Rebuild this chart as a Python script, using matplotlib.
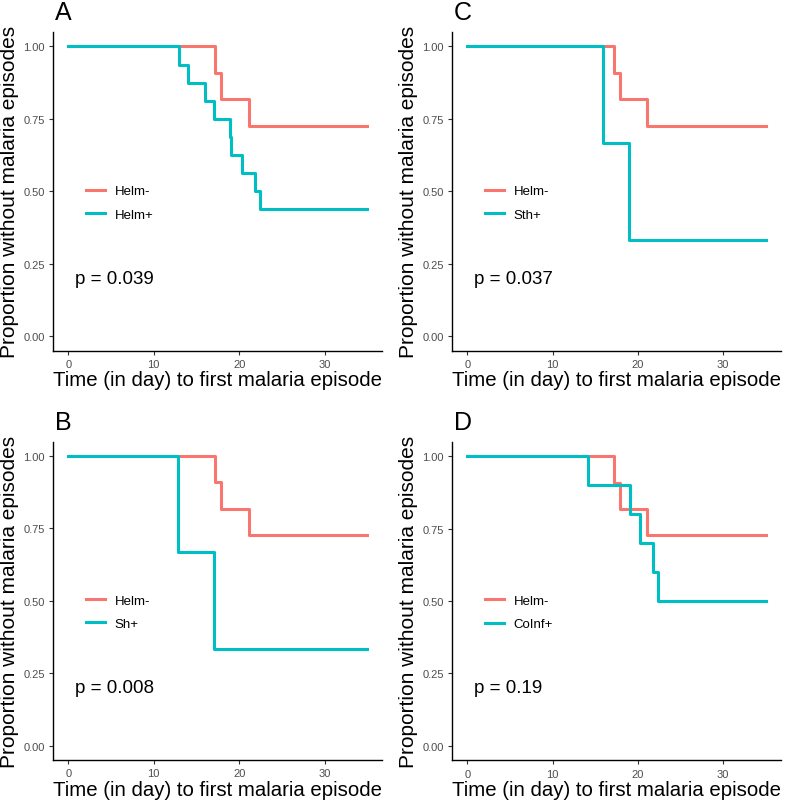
import matplotlib.pyplot as plt
import numpy as np

plt.rcParams['font.family'] = ['Liberation Sans', 'DejaVu Sans']

col_neg = "#F8766D"
col_pos = "#00BFC4"

# event times (days) and survival after each event
helm_neg_t = [17.2, 17.9, 21.1]
helm_neg_s = [0.909, 0.818, 0.727]

helm_pos_t = [13, 14, 16, 17, 18.9, 19.1, 20.3, 21.8, 22.4]
helm_pos_s = [0.9375, 0.875, 0.8125, 0.75, 0.6875, 0.625, 0.5625, 0.5, 0.4375]

sth_t = [15.9, 19.0]
sth_s = [0.667, 0.333]

sh_t = [12.9, 17.0]
sh_s = [0.667, 0.333]

coinf_t = [14.2, 19.1, 20.3, 21.8, 22.4]
coinf_s = [0.9, 0.8, 0.7, 0.6, 0.5]

t_end = 35

# letter, label of 2nd group, times, surv, p text, axes rect (px: left, top, width, height)
panels = [
    ("A", "Helm+", helm_pos_t, helm_pos_s, "p = 0.039", (53.3, 33, 329, 318.7)),
    ("C", "Sth+", sth_t, sth_s, "p = 0.037", (452.3, 33, 328.4, 318.7)),
    ("B", "Sh+", sh_t, sh_s, "p = 0.008", (53.3, 442.6, 329, 318.4)),
    ("D", "CoInf+", coinf_t, coinf_s, "p = 0.19", (452.3, 442.9, 328.4, 318.4)),
]

W, H = 785, 803
fig = plt.figure(figsize=(W / 100, H / 100), dpi=100)


def steps(t, s):
    x = [0] + list(t) + [t_end]
    y = [1.0] + list(s) + [s[-1]]
    return x, y


for letter, lab, t, s, ptxt, (l, top, w, h) in panels:
    ax = fig.add_axes([l / W, (H - top - h) / H, w / W, h / H])
    x0, y0 = steps(helm_neg_t, helm_neg_s)
    x1, y1 = steps(t, s)
    ax.step(x0, y0, where='post', color=col_neg, lw=2.2, label='Helm-')
    ax.step(x1, y1, where='post', color=col_pos, lw=2.2, label=lab)

    ax.set_xlim(-1.75, 36.75)
    ax.set_ylim(-0.05, 1.05)
    ax.set_xticks([0, 10, 20, 30])
    ax.set_yticks([0, 0.25, 0.5, 0.75, 1.0])
    ax.set_yticklabels(['0.00', '0.25', '0.50', '0.75', '1.00'])
    ax.tick_params(labelsize=8, labelcolor='#4D4D4D', length=3, width=0.8,
                   color='#333333', pad=3)
    for sp in ['top', 'right']:
        ax.spines[sp].set_visible(False)
    for sp in ['left', 'bottom']:
        ax.spines[sp].set_linewidth(1.0)
        ax.spines[sp].set_color('black')

    ax.set_xlabel('Time (in day) to first malaria episode', fontsize=14.7, labelpad=1)
    ax.set_ylabel('Proportion without malaria episodes', fontsize=15, labelpad=3)

    ax.text(0.8, 0.2, ptxt, fontsize=13.5, ha='left', va='center')
    ax.legend(loc='center left', bbox_to_anchor=(0.1, 0.464), frameon=False,
              fontsize=9.5, handlelength=1.4, handletextpad=0.75,
              labelspacing=0.85, borderpad=0, borderaxespad=0)
    ax.text(0.005, 1.04, letter, transform=ax.transAxes, fontsize=18,
            ha='left', va='baseline')

fig.savefig('out.png', dpi=100)
